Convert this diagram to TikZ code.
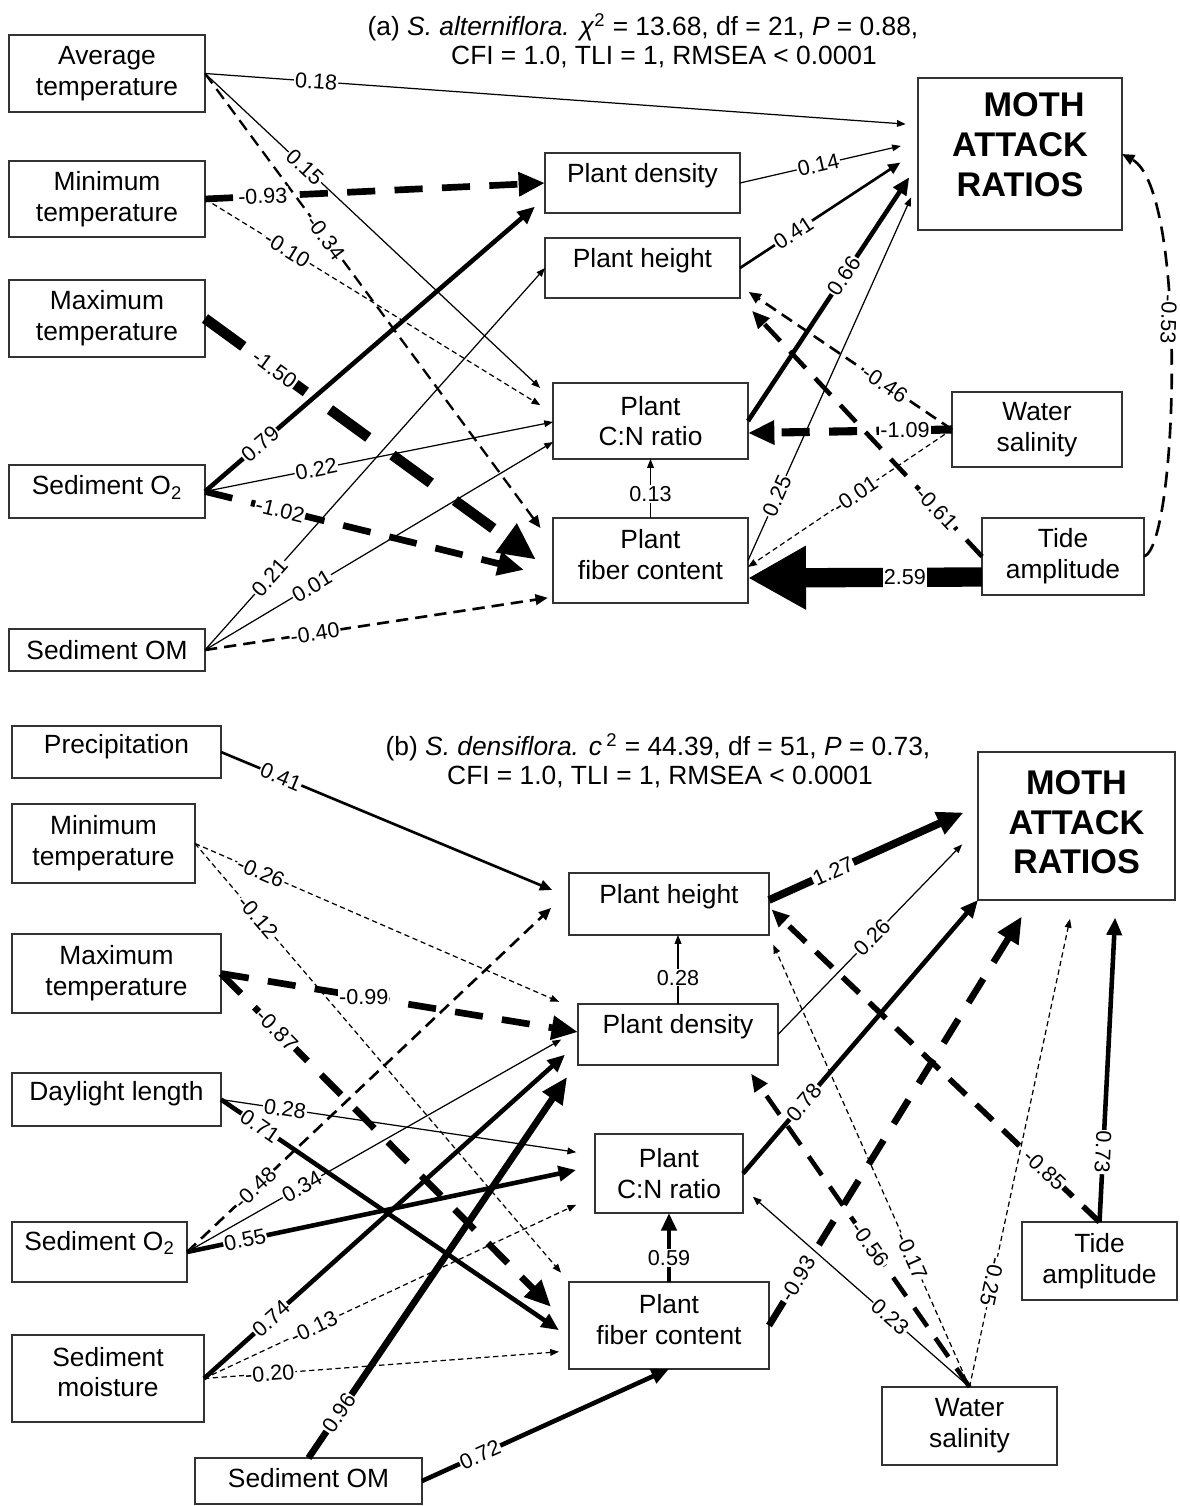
\documentclass[tikz,border=0pt]{standalone}
\usepackage{fontspec}
\setmainfont{Liberation Sans}
\usetikzlibrary{arrows.meta}
\newcommand\pxu{0.02cm}
\begin{document}
\begin{tikzpicture}[x=0.02cm,y=-0.02cm,
  box/.style={draw=black!80, line width=0.7pt, align=center, inner sep=1pt, outer sep=0pt, font=\fontsize{15}{17.5}\selectfont},
  sz/.style 2 args={minimum width=#1*\pxu, minimum height=#2*\pxu},
  moth/.style={box, font=\fontsize{19.5}{22.7}\selectfont\bfseries},
  ttl/.style={font=\fontsize{15}{17.5}\selectfont, inner sep=0pt},
  lab/.style={font=\fontsize{12.3}{14}\selectfont, fill=white, inner sep=0.6pt},
  e1/.style={line width=0.7pt, -{Triangle[length=5pt,width=3.8pt]}},
  d1/.style={e1, dash pattern=on 3pt off 2pt},
  e2/.style={line width=1.5pt, -{Triangle[length=7pt,width=6pt]}},
  d2/.style={e2, dash pattern=on 7pt off 4pt},
  e3/.style={line width=2.6pt, -{Triangle[length=10pt,width=8.5pt]}},
  d3/.style={e3, dash pattern=on 13pt off 8pt},
  e4/.style={line width=3.8pt, -{Triangle[length=15pt,width=13pt]}},
  d4/.style={e4, dash pattern=on 16pt off 11pt},
  d5/.style={line width=6pt, -{Triangle[length=21pt,width=19pt]}, dash pattern=on 27pt off 17pt},
  e9/.style={line width=11pt, -{Triangle[length=33pt,width=34pt]}}
]
\fill[white] (0,0) rectangle (1179,1506);
\useasboundingbox (0,0) rectangle (1179,1506);

% ---------------- panel (a) ----------------
\node[ttl] (ta1) at (643,27) {(a) \textit{S. alterniflora.} \textit{χ}\textsuperscript{2} = 13.68, df = 21, \textit{P} = 0.88,};
\node[ttl] (ta2) at (664,57) {CFI = 1.0, TLI = 1, RMSEA < 0.0001};

\node[box,sz={196}{77}] (avgT) at (107,73.5) {Average\\temperature};
\node[box,sz={196}{76}] (minT) at (107,199) {Minimum\\temperature};
\node[box,sz={196}{77}] (maxT) at (107,318.5) {Maximum\\temperature};
\node[box,sz={196}{53},text depth=7pt] (sedO2a) at (107,491.5) {Sediment O\textsubscript{2}};
\node[box,sz={196}{42}] (sedOMa) at (107,650) {Sediment OM};
\node[box,sz={195}{60},text depth=11.3pt] (pda) at (642.5,183) {Plant density};
\node[box,sz={195}{60},text depth=11.3pt] (pha) at (642.5,268) {Plant height};
\node[box,sz={195}{76}] (pcna) at (650.5,421) {Plant\\C:N ratio};
\node[box,sz={195}{85},text depth=6.8pt] (fiba) at (650.5,560.5) {Plant\\fiber content};
\node[moth,sz={204}{152},text depth=11pt] (mota) at (1020,154) {\hspace*{16pt}MOTH\\ATTACK\\RATIOS};
\node[box,sz={170}{75}] (wsa) at (1037,429.5) {Water\\salinity};
\node[box,sz={162}{77}] (tida) at (1063,556.5) {Tide\\amplitude};

\draw[e1,shorten >=7pt] (avgT.east) -- (mota.west|-0,125) node[lab,pos=0.156,sloped]{0.18};
\draw[e1,shorten >=10pt] (avgT.east) -- (pcna.west|-0,400) node[lab,pos=0.287,sloped]{0.15};
\draw[d2,line width=1.3pt,shorten >=12pt] (avgT.east) -- (fiba.west|-0,545) node[lab,pos=0.348,sloped]{-0.34};
\draw[d4] (minT.east) -- (pda.west|-0,183) node[lab,pos=0.17,sloped]{-0.93};
\draw[d1,shorten >=8.5pt] (minT.east) -- (pcna.west|-0,413) node[lab,pos=0.236,sloped]{-0.10};
\draw[d5,shorten >=12pt] (maxT.east) -- (fiba.west|-0,572) node[lab,pos=0.2,sloped]{-1.50};
\draw[e3,shorten >=7.5pt] (sedO2a.east) -- (pda.west|-0,198) node[lab,pos=0.162,sloped]{0.79};
\draw[e1] (sedO2a.east) -- (pcna.west|-0,422) node[lab,pos=0.32,sloped]{0.22};
\draw[d4,shorten >=17pt] (sedO2a.east) -- (fiba.west|-0,577) node[lab,pos=0.216,sloped]{-1.02};
\draw[e1] (sedOMa.east) -- (pha.west|-0,268) node[lab,pos=0.19,sloped]{0.21};
\draw[e1] (sedOMa.east) -- (pcna.west|-0,442) node[lab,pos=0.307,sloped]{0.01};
\draw[d2,shorten >=3pt] (sedOMa.east) -- (fiba.west|-0,597) node[lab,pos=0.316,sloped]{-0.40};
\draw[e1,shorten >=10pt] (pda.east) -- (mota.west|-0,142) node[lab,pos=0.44,sloped]{0.14};
\draw[e2,shorten >=12pt] (pha.east) -- (mota.west|-0,151) node[lab,pos=0.3,sloped]{0.41};
\draw[e3,shorten >=9pt] (pcna.east) -- (mota.west|-0,164) node[lab,pos=0.565,sloped]{0.66};
\draw[e1,shorten >=9.6pt] (fiba.east) -- (mota.west|-0,182) node[lab,pos=0.17,sloped]{0.25};
\draw[d2,shorten >=6pt] (wsa.west) -- (pha.east|-0,286) node[lab,pos=0.316,sloped]{-0.46};
\draw[d3,shorten >=10pt] (tida.west) -- (pha.south east) node[lab,pos=0.186,sloped]{-0.61};
\draw[d4,line width=4.6pt] (wsa.west) -- (pcna.east|-0,433) node[lab,pos=0.23]{-1.09};
\draw[d1] (wsa.west) -- (fiba.east|-0,567) node[lab,pos=0.475,sloped]{-0.01};
\draw[e9] (tida.west|-0,577) -- (fiba.east|-0,578) node[lab,pos=0.33,inner ysep=2pt]{2.59};
\draw[e2,dash pattern=on 9pt off 5pt] (tida.east) .. controls (1178,545) and (1188,190) .. (mota.east) node[lab,pos=0.58,rotate=-92]{-0.53};
\draw[e1] (fiba.north) -- (pcna.south) node[lab,pos=0.41]{0.13};

% ---------------- panel (b) ----------------
\node[ttl] (tb1) at (658,747) {(b) \textit{S. densiflora. c}\,\textsuperscript{2} = 44.39, df = 51, \textit{P} = 0.73,};
\node[ttl] (tb2) at (660,777) {CFI = 1.0, TLI = 1, RMSEA < 0.0001};

\node[box,sz={209}{52},text depth=9.6pt] (precip) at (116.5,752) {Precipitation};
\node[box,sz={183}{79}] (minTb) at (103.5,843.5) {Minimum\\temperature};
\node[box,sz={209}{79}] (maxTb) at (116.5,973.5) {Maximum\\temperature};
\node[box,sz={209}{53},text depth=9.6pt] (dayl) at (116.5,1099.5) {Daylight length};
\node[box,sz={175}{60},text depth=13pt] (sedO2b) at (99.5,1252) {Sediment O\textsubscript{2}};
\node[box,sz={192}{87},text depth=7.4pt] (sedMb) at (108,1378.5) {Sediment\\moisture};
\node[box,sz={227}{46},text depth=3.4pt] (sedOMb) at (308.5,1481) {Sediment OM};
\node[box,sz={200}{62},text depth=12pt] (phb) at (669,904) {Plant height};
\node[box,sz={200}{61},text depth=12.5pt] (pdb) at (678,1034.5) {Plant density};
\node[box,sz={148}{79}] (pcnb) at (669,1173.5) {Plant\\C:N ratio};
\node[box,sz={200}{87},text depth=6.8pt] (fibb) at (669,1325.5) {Plant\\fiber content};
\node[moth,sz={197}{148},text depth=4.5pt] (motb) at (1076.5,826) {MOTH\\ATTACK\\RATIOS};
\node[box,sz={155}{78}] (tideb) at (1099.5,1261) {Tide\\amplitude};
\node[box,sz={175}{78}] (wsb) at (969.5,1426) {Water\\salinity};

\draw[e2,shorten >=10.4pt] (precip.east) -- (phb.west|-0,897) node[lab,pos=0.172,sloped]{0.41};
\draw[d1,shorten >=11.7pt] (minTb.east) -- (pdb.west|-0,1010) node[lab,pos=0.172,sloped]{-0.26};
\draw[d1,shorten >=7pt] (minTb.east) -- (fibb.north west) node[lab,pos=0.168,sloped]{-0.12};
\draw[d4] (maxTb.east) -- (pdb.west|-0,1032) node[lab,pos=0.4]{-0.99};
\draw[d4,shorten >=14.5pt] (maxTb.east) -- (fibb.west|-0,1325) node[lab,pos=0.161,sloped]{-0.87};
\draw[e1,shorten >=10.8pt] (dayl.east) -- (pcnb.west|-0,1155) node[lab,pos=0.171,sloped]{0.28};
\draw[e3,shorten >=6.9pt] (dayl.east) -- (fibb.west|-0,1337) node[lab,pos=0.112,sloped]{0.71};
\draw[d2,shorten >=14pt] (sedO2b.east) -- (phb.west|-0,891) node[lab,pos=0.178,sloped]{-0.48};
\draw[e1,shorten >=11pt] (sedO2b.east) -- (pdb.west|-0,1030) node[lab,pos=0.294,sloped]{0.34};
\draw[e3,shorten >=11pt] (sedO2b.east) -- (pcnb.west|-0,1166) node[lab,pos=0.142,sloped]{0.55};
\draw[e3,shorten >=9.9pt] (sedMb.east) -- (pdb.west|-0,1043) node[lab,pos=0.179,sloped]{0.74};
\draw[e4,shorten >=11pt] (sedOMb.north) -- (pdb.west|-0,1061) node[lab,pos=0.113,sloped]{0.96};
\draw[d1,shorten >=11.8pt] (sedMb.east) -- (pcnb.west|-0,1196) node[lab,pos=0.281,sloped]{-0.13};
\draw[d1,shorten >=5.7pt] (sedMb.east) -- (fibb.west|-0,1351) node[lab,pos=0.18,sloped]{-0.20};
\draw[e3] (sedOMb.east) -- (fibb.south) node[lab,pos=0.235,sloped]{0.72};
\draw[e1] (pdb.north) -- (pdb.north|-phb.south) node[lab,pos=0.38]{0.28};
\draw[e3] (fibb.north) -- (pcnb.south) node[lab,pos=0.35]{0.59};
\draw[e4,line width=4.4pt,shorten >=9pt] (phb.east|-0,900) -- (motb.west|-0,806) node[lab,pos=0.306,sloped]{1.27};
\draw[e1,shorten >=13pt] (pdb.east) -- (motb.west|-0,828) node[lab,pos=0.47,sloped]{0.26};
\draw[e3] (pcnb.east) -- (motb.south west) node[lab,pos=0.26,sloped]{0.78};
\draw[d4,shorten >=11pt] (fibb.east) -- (motb.south-|1032,0) node[lab,pos=0.11,sloped]{-0.93};
\draw[d3,line width=3.2pt,shorten >=2pt] (tideb.north) -- (phb.east|-0,907) node[lab,pos=0.166,sloped]{-0.85};
\draw[e3,shorten >=10pt] (tideb.north) -- (motb.south-|1116,0) node[lab,pos=0.217,rotate=-92.8]{0.73};
\draw[d3,shorten >=6pt] (wsb.north) -- (pdb.south-|745,0) node[lab,pos=0.443,sloped]{-0.56};
\draw[d1,shorten >=6pt] (wsb.north) -- (phb.south east) node[lab,pos=0.29,sloped]{-0.17};
\draw[e1,shorten >=7.5pt] (wsb.north) -- (pcnb.east|-0,1188) node[lab,pos=0.351,sloped]{0.23};
\draw[d1,shorten >=11pt] (wsb.north) -- (motb.south-|1074,0) node[lab,pos=0.216,rotate=-102.1]{-0.25};
\end{tikzpicture}
\end{document}
